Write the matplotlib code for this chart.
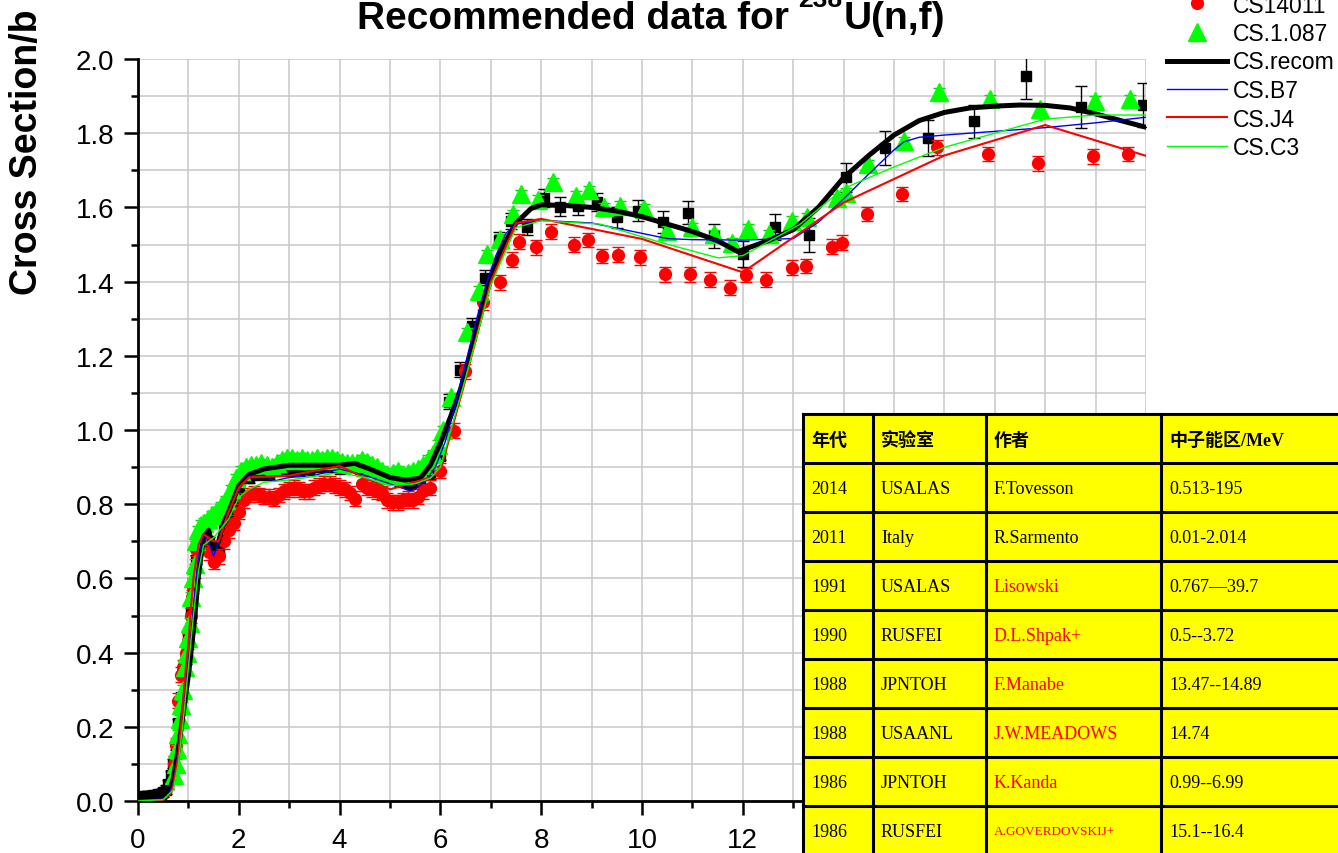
import matplotlib
matplotlib.use("Agg")
import matplotlib.pyplot as plt
from matplotlib.lines import Line2D
from matplotlib.patches import Rectangle
from matplotlib.ticker import MultipleLocator, FormatStrFormatter, FuncFormatter

plt.rcParams['font.family'] = ['Liberation Sans', 'DejaVu Sans']

# ---------------- measured cross sections ----------------
# black squares (dense below 6 MeV, sparse above)
sq_e = [0.05, 0.1, 0.15, 0.2, 0.25, 0.3, 0.35, 0.4, 0.45, 0.5, 0.55, 0.6, 0.65,
        0.7, 0.75, 0.8, 0.85, 0.9, 0.95, 1.0, 1.05, 1.1, 1.15, 1.2, 1.3, 1.4,
        1.5, 1.6, 1.7, 1.8, 1.9, 2.0, 2.2, 2.4, 2.6, 2.8, 3.0, 3.2, 3.4, 3.6,
        3.8, 4.0, 4.2, 4.4, 4.6, 4.8, 5.0, 5.2, 5.4, 5.6, 5.8, 6.0,
        6.18, 6.39, 6.62, 6.88, 7.17, 7.41, 7.71, 8.06, 8.37, 8.74, 9.10, 9.51,
        9.93, 10.42, 10.92, 11.42, 12.01, 12.64, 13.32, 14.04, 14.82, 15.67,
        16.59, 17.62, 18.72, 19.95]
sq_cs = [0.012, 0.013, 0.013, 0.014, 0.014, 0.015, 0.016, 0.018, 0.020, 0.024,
         0.030, 0.045, 0.070, 0.100, 0.150, 0.210, 0.280, 0.340, 0.380, 0.440,
         0.520, 0.580, 0.650, 0.700, 0.710, 0.700, 0.670, 0.680, 0.740, 0.770,
         0.800, 0.840, 0.870, 0.880, 0.880, 0.890, 0.890, 0.890, 0.895, 0.900,
         0.900, 0.895, 0.900, 0.895, 0.890, 0.880, 0.870, 0.860, 0.855, 0.860,
         0.880, 0.930,
         1.076, 1.162, 1.281, 1.411, 1.512, 1.564, 1.548, 1.625, 1.602, 1.604,
         1.615, 1.573, 1.591, 1.561, 1.586, 1.523, 1.474, 1.546, 1.526, 1.681,
         1.760, 1.787, 1.832, 1.953, 1.871, 1.876]
sq_err = [0.012] * 52 + [0.02, 0.02, 0.02, 0.02, 0.022, 0.022, 0.022, 0.025,
                         0.025, 0.025, 0.025, 0.028, 0.028, 0.03, 0.03, 0.032,
                         0.035, 0.035, 0.045, 0.04, 0.045, 0.048, 0.045, 0.06,
                         0.057, 0.06]

# CS14011 (red circles)
cs14011_e = [0.72, 0.76, 0.80, 0.85, 0.90, 0.95, 1.00, 1.05, 1.08, 1.10, 1.13,
             1.16, 1.20, 1.30, 1.40, 1.50, 1.60, 1.70, 1.80, 1.90, 2.00, 2.10,
             2.20, 2.30, 2.40, 2.50, 2.60, 2.70, 2.80, 2.90, 3.00, 3.10, 3.20,
             3.30, 3.40, 3.50, 3.60, 3.70, 3.80, 3.90, 4.00, 4.10, 4.20, 4.30,
             4.45, 4.55, 4.65, 4.75, 4.85, 4.95, 5.05, 5.15, 5.25, 5.35, 5.45,
             5.55, 5.65, 5.80, 6.00, 6.27, 6.49, 6.85,
             7.18, 7.43, 7.56, 7.90, 8.19, 8.66, 8.92, 9.21, 9.53, 9.96, 10.46,
             10.95, 11.35, 11.75, 12.06, 12.46, 12.97, 13.25, 13.76, 13.96,
             14.46, 15.15, 15.85, 16.86, 17.85, 18.95, 19.65]
cs14011_cs = [0.10, 0.15, 0.27, 0.34, 0.36, 0.40, 0.43, 0.50, 0.55, 0.58, 0.62,
              0.68, 0.70, 0.71, 0.67, 0.645, 0.66, 0.70, 0.73, 0.75, 0.78, 0.81,
              0.825, 0.83, 0.825, 0.82, 0.82, 0.815, 0.825, 0.835, 0.84, 0.845,
              0.84, 0.835, 0.835, 0.845, 0.85, 0.855, 0.855, 0.85, 0.845, 0.84,
              0.83, 0.815, 0.855, 0.845, 0.84, 0.835, 0.83, 0.81, 0.805, 0.805,
              0.81, 0.815, 0.81, 0.82, 0.835, 0.845, 0.89, 0.998, 1.158, 1.344,
              1.398, 1.459, 1.508, 1.493, 1.535, 1.499, 1.512, 1.469, 1.472,
              1.465, 1.420, 1.420, 1.405, 1.384, 1.418, 1.405, 1.438, 1.442,
              1.494, 1.505, 1.582, 1.636, 1.762, 1.744, 1.719, 1.738, 1.744]

# CS.1.087 (green triangles)
cs1087_e = [0.72, 0.75, 0.78, 0.80, 0.83, 0.86, 0.90, 0.93, 0.97, 1.00, 1.03,
            1.06, 1.10, 1.13, 1.16, 1.20, 1.25, 1.30, 1.38, 1.46, 1.55, 1.65,
            1.75, 1.85, 1.95, 2.05, 2.15, 2.25, 2.35, 2.45, 2.55, 2.65, 2.75,
            2.85, 2.95, 3.05, 3.15, 3.25, 3.35, 3.45, 3.55, 3.65, 3.75, 3.85,
            3.95, 4.05, 4.15, 4.25, 4.35, 4.45, 4.55, 4.65, 4.75, 4.85, 4.95,
            5.05, 5.15, 5.25, 5.35, 5.45, 5.55, 5.65, 5.75, 5.85, 5.95, 6.05,
            6.22, 6.52, 6.77, 6.93, 7.18, 7.45, 7.60, 7.93, 8.23, 8.70, 8.95,
            9.25, 9.56, 10.03, 10.49, 11.00, 11.42, 11.79, 12.11, 12.51, 12.97,
            13.27, 13.86, 14.04, 14.49, 15.20, 15.90, 16.90, 17.90, 18.99, 19.68]
cs1087_cs = [0.07, 0.10, 0.14, 0.18, 0.22, 0.26, 0.30, 0.36, 0.40, 0.44, 0.48,
             0.55, 0.60, 0.64, 0.70, 0.73, 0.745, 0.75, 0.76, 0.77, 0.78, 0.795,
             0.81, 0.84, 0.87, 0.89, 0.90, 0.905, 0.905, 0.91, 0.905, 0.90,
             0.91, 0.92, 0.925, 0.925, 0.92, 0.925, 0.92, 0.92, 0.925, 0.92,
             0.925, 0.925, 0.92, 0.915, 0.91, 0.91, 0.91, 0.92, 0.915, 0.905,
             0.90, 0.89, 0.88, 0.885, 0.89, 0.88, 0.885, 0.89, 0.895, 0.905,
             0.92, 0.935, 0.96, 1.00,
             1.088, 1.263, 1.375, 1.474, 1.515, 1.582, 1.636, 1.621, 1.668,
             1.632, 1.646, 1.601, 1.605, 1.596, 1.537, 1.546, 1.528, 1.505,
             1.542, 1.528, 1.564, 1.573, 1.624, 1.639, 1.717, 1.779, 1.910,
             1.892, 1.865, 1.887, 1.892]

# ---------------- evaluated curves ----------------
recom_e = [0.0, 0.3, 0.5, 0.6, 0.7, 0.8, 0.9, 1.0, 1.1, 1.2, 1.3, 1.4, 1.5,
           1.6, 1.7, 1.8, 2.0, 2.2, 2.5, 3.0, 3.5, 4.0, 4.3, 4.6, 5.0, 5.3,
           5.6, 5.8, 6.0, 6.2, 6.4, 6.6, 6.8, 7.0, 7.2, 7.5, 7.8, 8.0, 8.5,
           9.0, 9.5, 10.0, 10.5, 11.0, 11.5, 11.9, 12.5, 13.0, 13.5, 14.0,
           14.5, 15.0, 15.5, 16.0, 16.5, 17.0, 17.5, 18.0, 18.5, 19.0, 19.5,
           20.0]
recom_cs = [0.005, 0.006, 0.010, 0.020, 0.060, 0.140, 0.240, 0.340, 0.460,
            0.610, 0.710, 0.730, 0.680, 0.700, 0.750, 0.780, 0.850, 0.880,
            0.895, 0.905, 0.905, 0.905, 0.910, 0.895, 0.872, 0.865, 0.870,
            0.905, 0.965, 1.035, 1.110, 1.210, 1.310, 1.410, 1.485, 1.558,
            1.597, 1.607, 1.605, 1.600, 1.590, 1.575, 1.555, 1.535, 1.510,
            1.481, 1.510, 1.540, 1.600, 1.680, 1.740, 1.795, 1.834, 1.856,
            1.868, 1.873, 1.876, 1.875, 1.868, 1.852, 1.834, 1.816]

b7_e = [0.0, 0.5, 0.6, 0.7, 0.8, 0.9, 1.0, 1.1, 1.2, 1.3, 1.4, 1.5, 1.6, 1.7,
        1.8, 2.0, 2.2, 2.5, 2.7, 2.8, 3.0, 3.5, 4.0, 4.5, 5.0, 5.4, 5.5, 5.7,
        5.9, 6.1, 6.3, 6.5, 6.7, 6.9, 7.1, 7.3, 7.5, 8.0, 9.0, 10.0, 10.5,
        11.0, 12.0, 13.0, 13.5, 14.0, 14.5, 15.0, 15.2, 15.5, 16.0, 17.0,
        18.0, 19.0, 20.0]
b7_cs = [0.002, 0.005, 0.015, 0.050, 0.130, 0.250, 0.370, 0.520, 0.660, 0.720,
         0.700, 0.660, 0.700, 0.750, 0.780, 0.840, 0.875, 0.878, 0.862, 0.866,
         0.872, 0.878, 0.895, 0.878, 0.855, 0.836, 0.840, 0.862, 0.900, 0.970,
         1.070, 1.180, 1.290, 1.390, 1.470, 1.530, 1.555, 1.565, 1.558, 1.530,
         1.516, 1.513, 1.512, 1.516, 1.560, 1.623, 1.690, 1.755, 1.777, 1.789,
         1.795, 1.805, 1.815, 1.828, 1.843]

j4_e = [0.0, 0.5, 0.65, 0.7, 0.8, 0.9, 0.95, 1.0, 1.05, 1.1, 1.2, 1.3, 1.5,
        1.6, 1.8, 2.0, 2.2, 3.0, 4.0, 5.0, 5.8, 6.0, 6.5, 7.0, 7.5, 8.0, 10.0,
        12.0, 14.0, 16.0, 18.0, 20.0]
j4_cs = [0.0, 0.003, 0.020, 0.040, 0.120, 0.280, 0.360, 0.420, 0.520, 0.600,
         0.690, 0.720, 0.700, 0.700, 0.780, 0.845, 0.872, 0.877, 0.903, 0.840,
         0.872, 0.890, 1.137, 1.400, 1.558, 1.569, 1.515, 1.425, 1.613, 1.740,
         1.822, 1.739]

c3_e = [0.0, 0.5, 0.7, 0.8, 0.9, 1.0, 1.1, 1.2, 1.3, 1.5, 1.8, 2.0, 2.2, 2.5,
        3.0, 3.5, 4.0, 4.5, 5.0, 5.5, 5.8, 6.0, 6.5, 7.0, 7.5, 8.0, 9.17,
        10.36, 11.51, 12.0, 13.13, 14.0, 15.0, 16.0, 18.0, 19.0, 20.0]
c3_cs = [0.0, 0.004, 0.030, 0.100, 0.220, 0.360, 0.500, 0.620, 0.690, 0.710,
         0.760, 0.818, 0.840, 0.859, 0.865, 0.875, 0.885, 0.872, 0.850, 0.855,
         0.870, 0.900, 1.140, 1.390, 1.546, 1.564, 1.555, 1.506, 1.464, 1.470,
         1.554, 1.651, 1.709, 1.762, 1.838, 1.849, 1.849]

# ---------------- reference table ----------------
tbl_header = ["年代", "实验室", "作者", "中子能区/MeV"]
tbl_year = ["2014", "2011", "1991", "1990", "1988", "1988", "1986", "1986"]
tbl_lab = ["USALAS", "Italy", "USALAS", "RUSFEI", "JPNTOH", "USAANL",
           "JPNTOH", "RUSFEI"]
tbl_author = ["F.Tovesson", "R.Sarmento", "Lisowski", "D.L.Shpak+",
              "F.Manabe", "J.W.MEADOWS", "K.Kanda", "A.GOVERDOVSKIJ+"]
tbl_range = ["0.513-195", "0.01-2.014", "0.767\u201439.7", "0.5--3.72",
             "13.47--14.89", "14.74", "0.99--6.99", "15.1--16.4"]

# ---------------- figure ----------------
W, H = 1338, 854
fig = plt.figure(figsize=(W / 100, H / 100), dpi=100)
L, R, T, B = 138, 1146, 60, 802
ax = fig.add_axes([L / W, 1 - B / H, (R - L) / W, (B - T) / H])
ax.set_xlim(0, 20)
ax.set_ylim(0, 2.0)
ax.xaxis.set_major_locator(MultipleLocator(2))
ax.xaxis.set_minor_locator(MultipleLocator(1))
# energies from 14 MeV on sit beneath the table, so they carry no label
ax.xaxis.set_major_formatter(FuncFormatter(
    lambda v, pos: f'{v:.0f}' if v < 13 else ''))
ax.yaxis.set_major_locator(MultipleLocator(0.2))
ax.yaxis.set_minor_locator(MultipleLocator(0.1))
ax.yaxis.set_major_formatter(FormatStrFormatter('%.1f'))
ax.grid(which='both', color='#c8c8c8', lw=1.1)
ax.set_axisbelow(True)
for s in ('top', 'right'):
    ax.spines[s].set_visible(False)
for s in ('left', 'bottom'):
    ax.spines[s].set_linewidth(2.0)
ax.tick_params(which='major', direction='out', length=10, width=1.8,
               labelsize=20, pad=7)
ax.tick_params(axis='x', which='major', pad=8.5)
ax.tick_params(which='minor', direction='out', length=5, width=1.8)

ax.errorbar(sq_e, sq_cs, yerr=sq_err, fmt='s', color='black', ms=7.5,
            ecolor='black', elinewidth=1.0, capsize=4.5, capthick=1.0,
            zorder=3)
ax.errorbar(cs14011_e, cs14011_cs, yerr=0.02, fmt='o', color='#ff0000',
            ms=8.5, ecolor='#ff0000', elinewidth=1.0, capsize=4.5,
            capthick=1.0, zorder=4)
ax.errorbar(cs1087_e, cs1087_cs, yerr=0.012, fmt='^', color='#00ff00',
            ms=12.5, ecolor='#00dd00', elinewidth=1.0, capsize=4,
            capthick=1.0, zorder=5)
ax.plot(recom_e, recom_cs, color='black', lw=3.6, zorder=6)
ax.plot(b7_e, b7_cs, color='#0000ff', lw=1.0, zorder=7)
ax.plot(j4_e, j4_cs, color='#ff0000', lw=1.5, zorder=7)
ax.plot(c3_e, c3_cs, color='#00ff00', lw=1.0, zorder=7)

# title assembled from pieces so the mass number sits as a raised superscript
renderer = fig.canvas.get_renderer()
title_parts = [("Recommended data for", 28, 0), ("238", 19, 22),
               ("U(n,f)", 28, 0)]
gaps = [9, 1, 0]
title_texts, widths = [], []
for txt, fs, dy in title_parts:
    t = fig.text(0, 0, txt, fontsize=fs, fontweight='bold', ha='left',
                 va='baseline')
    widths.append(t.get_window_extent(renderer).width)
    title_texts.append(t)
total = sum(widths) + sum(gaps)
x = 651 - total / 2
base = 29
for t, w, g, (txt, fs, dy) in zip(title_texts, widths, gaps, title_parts):
    t.set_position((x / W, 1 - (base - dy) / H))
    x += w + g

fig.text(27 / W, 1 - 152 / H, 'Cross Section/b', fontsize=27,
         fontweight='bold', rotation=90, ha='center', va='center')

# overlay in pixel coordinates for legend and table
ov = fig.add_axes([0, 0, 1, 1], zorder=10)
ov.set_xlim(0, W)
ov.set_ylim(H, 0)
ov.axis('off')

leg_x0, leg_x1, leg_tx = 1167, 1227, 1233
legend_rows = [
    ('CS14011', dict(marker='o', color='#ff0000', ms=8.5, ls='none'), 4, 13),
    ('CS.1.087', dict(marker='^', color='#00ff00', ms=12.5, ls='none'), 33, 41),
    ('CS.recom', dict(color='black', lw=3.6), 61.5, 69),
    ('CS.B7', dict(color='#0000ff', lw=1.0), 90, 98),
    ('CS.J4', dict(color='#ff0000', lw=1.5), 118, 127),
    ('CS.C3', dict(color='#00ff00', lw=1.0), 147, 155),
]
for label, style, yc, ybase in legend_rows:
    if style.get('ls') == 'none':
        ov.add_line(Line2D([(leg_x0 + leg_x1) / 2], [yc], **style))
    else:
        ov.add_line(Line2D([leg_x0, leg_x1], [yc, yc], **style))
    ov.text(leg_tx, ybase, label, fontsize=16.5, ha='left', va='baseline')

col_x = [803, 873, 986, 1161, 1400]
row_y = [415 + 49 * i for i in range(10)]
ov.add_patch(Rectangle((col_x[0], row_y[0]), col_x[-1] - col_x[0],
                       row_y[-1] - row_y[0], facecolor='#ffff00',
                       edgecolor='none', zorder=1))
for x in col_x:
    ov.plot([x, x], [row_y[0], row_y[-1]], color='black', lw=2.2, zorder=2,
            solid_capstyle='projecting')
for y in row_y:
    ov.plot([col_x[0], col_x[-1]], [y, y], color='black', lw=2.2, zorder=2,
            solid_capstyle='projecting')

serif = ['Liberation Serif', 'Noto Sans CJK SC']
pad = 8
yc = (row_y[0] + row_y[1]) / 2 + 2
for j, txt in enumerate(tbl_header):
    ov.text(col_x[j] + pad, yc, txt, family=serif, fontsize=13,
            fontweight='bold', ha='left', va='center', zorder=3)
for i in range(len(tbl_year)):
    yc = (row_y[i + 1] + row_y[i + 2]) / 2 + 1
    auth_color = 'black' if i < 2 else '#ff0000'
    auth_size = 9.5 if len(tbl_author[i]) > 12 else 13
    cells = [(tbl_year[i], 'black', 13), (tbl_lab[i], 'black', 13),
             (tbl_author[i], auth_color, auth_size), (tbl_range[i], 'black', 13)]
    for j, (txt, colr, fs) in enumerate(cells):
        ov.text(col_x[j] + pad, yc, txt, family=serif, fontsize=fs,
                color=colr, ha='left', va='center', zorder=3)

fig.savefig('out.png', dpi=100)
